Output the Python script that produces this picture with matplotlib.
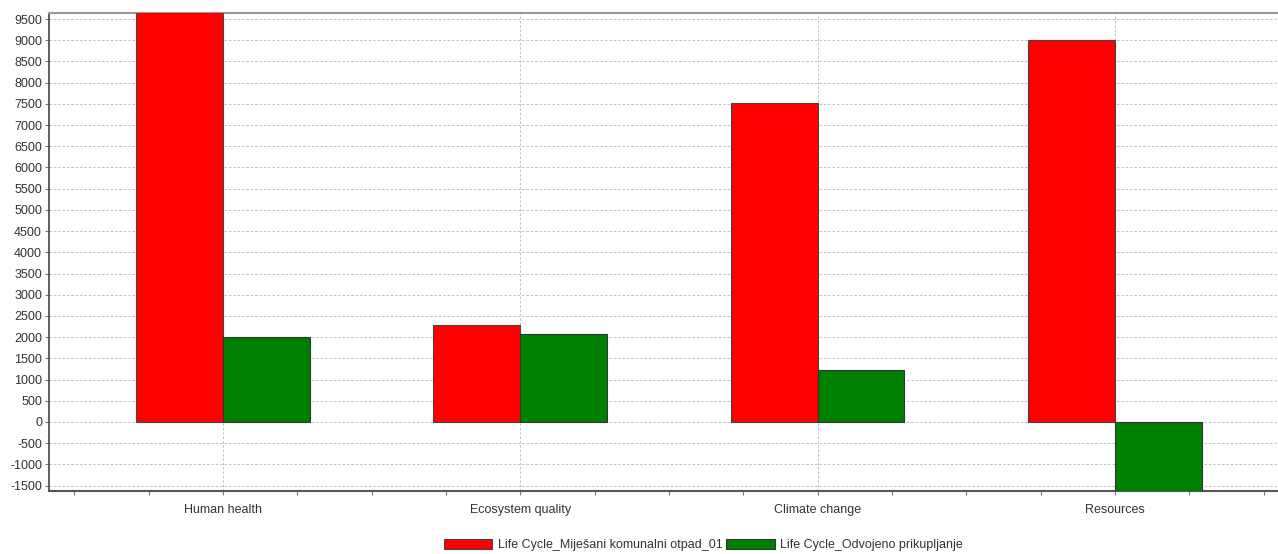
import numpy as np
import matplotlib
matplotlib.use('Agg')
import matplotlib.pyplot as plt
from matplotlib.ticker import MultipleLocator

plt.rcParams['font.family'] = ['Liberation Sans', 'DejaVu Sans']
plt.rcParams['axes.unicode_minus'] = False

categories = ['Human health', 'Ecosystem quality', 'Climate change', 'Resources']
series_names = ['Life Cycle_Miješani komunalni otpad_01', 'Life Cycle_Odvojeno prikupljanje']
mijesani = [9800, 2295, 7515, 8995]
odvojeno = [2010, 2075, 1235, -1800]
colors = ['#ff0000', '#008000']

fig = plt.figure(figsize=(12.78, 5.54), dpi=100)
ax = fig.add_axes([0.0383, 0.1137, 0.9617, 0.8628])

x = np.arange(len(categories))
w = 0.292
ax.bar(x, mijesani, width=-w, align='edge', color=colors[0], edgecolor='#444444',
       linewidth=0.8, label=series_names[0], zorder=3)
ax.bar(x, odvojeno, width=w, align='edge', color=colors[1], edgecolor='#333333',
       linewidth=0.8, label=series_names[1], zorder=3)

ax.set_xlim(-0.585, 3.548)
ax.set_ylim(-1627, 9641)
ax.yaxis.set_major_locator(MultipleLocator(500))
ax.set_xticks(x)
ax.set_xticklabels(categories)
ax.xaxis.set_minor_locator(MultipleLocator(0.25))

ax.grid(True, axis='y', linestyle=(0, (2.5, 2)), color='#c0c0c0', linewidth=0.7, zorder=0)
ax.grid(True, axis='x', which='major', linestyle=(0, (2.5, 2)), color='#c0c0c0',
        linewidth=0.7, zorder=0)

ax.tick_params(axis='both', which='both', labelsize=9, labelcolor='#333333',
               color='#777777', length=3, width=0.8)
ax.tick_params(axis='y', pad=2)
ax.tick_params(axis='x', which='major', pad=6)

ax.spines['right'].set_visible(False)
ax.spines['top'].set_color('#999999')
ax.spines['top'].set_linewidth(1.5)
ax.spines['left'].set_color('#444444')
ax.spines['left'].set_linewidth(1.2)
ax.spines['bottom'].set_color('#555555')
ax.spines['bottom'].set_linewidth(1.5)

leg = fig.legend(loc='center', bbox_to_anchor=(0.5505, 0.0162), ncol=2, frameon=False,
                 fontsize=9, handlelength=3.85, handleheight=0.8, handletextpad=0.45,
                 columnspacing=0.3, borderpad=0)
for t in leg.get_texts():
    t.set_color('#333333')

fig.savefig('out.png', dpi=100)
